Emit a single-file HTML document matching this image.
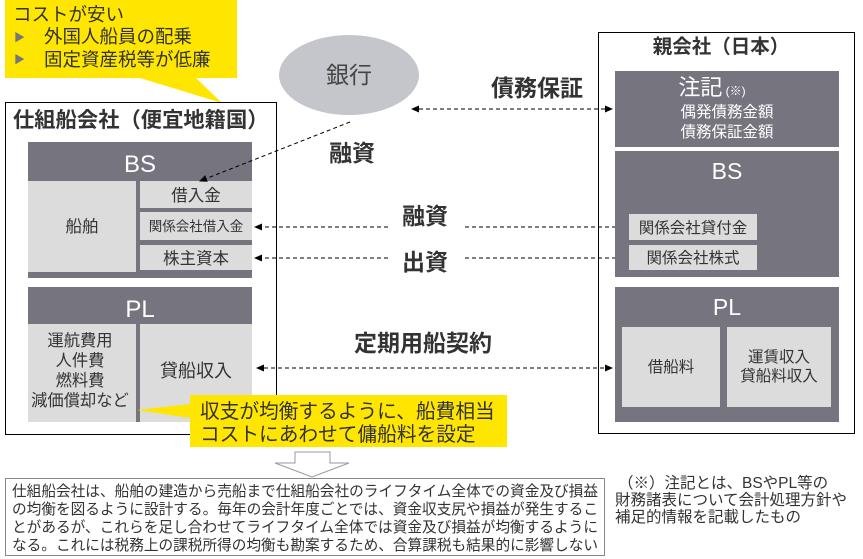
<!DOCTYPE html>
<html><head><meta charset="utf-8"><style>
html,body{margin:0;padding:0;background:#fff;}
svg{display:block;font-family:"Liberation Sans","Noto Sans CJK JP",sans-serif;}
</style></head><body>
<svg width="863" height="559" viewBox="0 0 863 559" xmlns="http://www.w3.org/2000/svg">
<defs>
<marker id="a" markerWidth="8" markerHeight="8" refX="7" refY="4" orient="auto" markerUnits="userSpaceOnUse"><path d="M0,0.5 L8,4 L0,7.5z" fill="#000"/></marker>
<marker id="s" markerWidth="8" markerHeight="8" refX="1" refY="4" orient="auto" markerUnits="userSpaceOnUse"><path d="M8,0.5 L0,4 L8,7.5z" fill="#000"/></marker>
</defs>
<polygon points="5,0 237,0 237,78 196,78 222,103 140,78 5,78" fill="#ffe600"/>
<text x="13" y="21" font-size="18.5" fill="#333">コストが安い</text>
<text x="14" y="41" font-size="11" fill="#777">▶</text>
<text x="44" y="43" font-size="18.5" fill="#333">外国人船員の配乗</text>
<text x="14" y="63" font-size="11" fill="#777">▶</text>
<text x="44" y="66" font-size="18.5" fill="#333">固定資産税等が低廉</text>
<rect x="5.5" y="102.5" width="271" height="332" fill="none" stroke="#000" stroke-width="1"/>
<text x="13" y="127" font-size="21.3" font-weight="bold" fill="#333">仕組船会社（便宜地籍国）</text>
<rect x="28" y="142" width="224" height="136" fill="#75747f"/>
<text x="140" y="172" font-size="24" fill="#fff" text-anchor="middle">BS</text>
<rect x="28" y="181" width="108" height="91" fill="#dcdcdc"/>
<text x="82" y="232" font-size="16.5" fill="#333" text-anchor="middle">船舶</text>
<rect x="140" y="181" width="112" height="27" fill="#dcdcdc"/>
<text x="196" y="201" font-size="16.5" fill="#333" text-anchor="middle">借入金</text>
<rect x="140" y="212" width="112" height="28" fill="#dcdcdc"/>
<text x="196" y="231" font-size="13.5" fill="#333" text-anchor="middle">関係会社借入金</text>
<rect x="140" y="245" width="112" height="25" fill="#dcdcdc"/>
<text x="196" y="264" font-size="16.5" fill="#333" text-anchor="middle">株主資本</text>
<rect x="28" y="287" width="224" height="135" fill="#75747f"/>
<text x="140" y="317" font-size="24" fill="#fff" text-anchor="middle">PL</text>
<rect x="28" y="324" width="108" height="98" fill="#dcdcdc"/>
<rect x="140" y="324" width="112" height="98" fill="#dcdcdc"/>
<text x="80" y="346" font-size="16.3" fill="#333" text-anchor="middle">運航費用</text>
<text x="80" y="366" font-size="16.3" fill="#333" text-anchor="middle">人件費</text>
<text x="80" y="386" font-size="16.3" fill="#333" text-anchor="middle">燃料費</text>
<text x="80" y="406" font-size="16.3" fill="#333" text-anchor="middle">減価償却など</text>
<text x="196" y="377" font-size="18" fill="#333" text-anchor="middle">貸船収入</text>
<polygon points="190,395 507,395 507,447 190,447 190,418 137,410 190,404" fill="#ffe600"/>
<text x="200" y="418" font-size="19.7" fill="#333">収支が均衡するように、船費相当</text>
<text x="200" y="441" font-size="19.7" fill="#333">コストにあわせて傭船料を設定</text>
<ellipse cx="349" cy="75" rx="70" ry="40" fill="#c5c6cc"/>
<text x="349" y="83" font-size="23" fill="#444" text-anchor="middle">銀行</text>
<text x="537" y="96" font-size="23" font-weight="bold" fill="#333" text-anchor="middle">債務保証</text>
<text x="352" y="161" font-size="23" font-weight="bold" fill="#333" text-anchor="middle">融資</text>
<text x="425" y="224" font-size="23" font-weight="bold" fill="#333" text-anchor="middle">融資</text>
<text x="425" y="270" font-size="23" font-weight="bold" fill="#333" text-anchor="middle">出資</text>
<text x="423" y="351" font-size="23" font-weight="bold" fill="#333" text-anchor="middle">定期用船契約</text>
<g stroke="#000" stroke-width="1" stroke-dasharray="4,3" fill="none">
<line x1="412" y1="109" x2="612" y2="109" marker-start="url(#s)" marker-end="url(#a)"/>
<line x1="350" y1="122" x2="200" y2="181" marker-end="url(#a)"/>
<line x1="388" y1="227" x2="255" y2="227" marker-end="url(#a)"/>
<line x1="465" y1="227" x2="628" y2="227"/>
<line x1="388" y1="258" x2="255" y2="258" marker-end="url(#a)"/>
<line x1="465" y1="258" x2="628" y2="258"/>
<line x1="257" y1="368" x2="612" y2="368" marker-start="url(#s)" marker-end="url(#a)"/>
</g>
<rect x="598.5" y="32.5" width="256" height="401" fill="none" stroke="#000" stroke-width="1"/>
<text x="721" y="53" font-size="19.5" font-weight="bold" fill="#333" text-anchor="middle">親会社（日本）</text>
<rect x="615" y="71" width="224" height="76" fill="#75747f"/>
<text x="712" y="95" font-size="22" fill="#fff" text-anchor="middle">注記<tspan font-size="12"> (※)</tspan></text>
<text x="727" y="117" font-size="15.5" fill="#fff" text-anchor="middle">偶発債務金額</text>
<text x="727" y="137" font-size="15.5" fill="#fff" text-anchor="middle">債務保証金額</text>
<rect x="615" y="151" width="224" height="126" fill="#75747f"/>
<text x="727" y="179" font-size="23" fill="#fff" text-anchor="middle">BS</text>
<rect x="629" y="214" width="128" height="26" fill="#dcdcdc"/>
<text x="693" y="233" font-size="15.5" fill="#333" text-anchor="middle">関係会社貸付金</text>
<rect x="629" y="245" width="128" height="25" fill="#dcdcdc"/>
<text x="693" y="263" font-size="15.5" fill="#333" text-anchor="middle">関係会社株式</text>
<rect x="615" y="287" width="224" height="135" fill="#75747f"/>
<text x="727" y="315" font-size="23" fill="#fff" text-anchor="middle">PL</text>
<rect x="622" y="327" width="98" height="80" fill="#dcdcdc"/>
<text x="671" y="372" font-size="15.5" fill="#333" text-anchor="middle">借船料</text>
<rect x="727" y="327" width="104" height="80" fill="#dcdcdc"/>
<text x="779" y="362" font-size="15.5" fill="#333" text-anchor="middle">運賃収入</text>
<text x="779" y="381" font-size="15.5" fill="#333" text-anchor="middle">貸船料収入</text>
<polygon points="295,452 330,452 330,463 349,463 312,477 275,463 295,463" fill="#fff" stroke="#999" stroke-width="1"/>
<rect x="5.5" y="478.5" width="599" height="77" fill="#fff" stroke="#888" stroke-width="1"/>
<g font-size="15" fill="#333">
<text x="12" y="496" textLength="586" lengthAdjust="spacingAndGlyphs">仕組船会社は、船舶の建造から売船まで仕組船会社のライフタイム全体での資金及び損益</text>
<text x="12" y="514" textLength="586" lengthAdjust="spacingAndGlyphs">の均衡を図るように設計する。毎年の会計年度ごとでは、資金収支尻や損益が発生するこ</text>
<text x="12" y="532" textLength="586" lengthAdjust="spacingAndGlyphs">とがあるが、これらを足し合わせてライフタイム全体では資金及び損益が均衡するように</text>
<text x="12" y="550" textLength="586" lengthAdjust="spacingAndGlyphs">なる。これには税務上の課税所得の均衡も勘案するため、合算課税も結果的に影響しない</text>
</g>
<g font-size="15.5" fill="#333">
<text x="618" y="488">（※）注記とは、BSやPL等の</text>
<text x="615" y="505">財務諸表について会計処理方針や</text>
<text x="615" y="522">補足的情報を記載したもの</text>
</g>
</svg>
</body></html>
